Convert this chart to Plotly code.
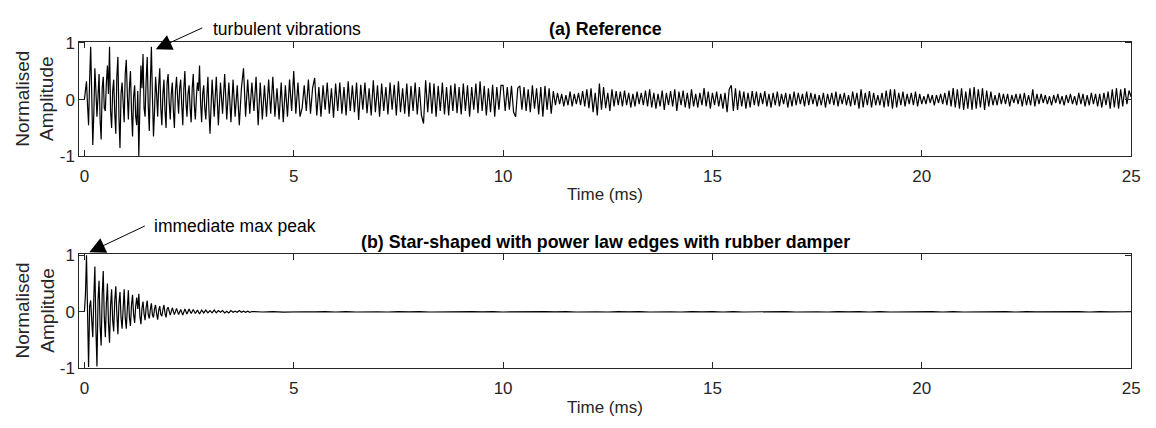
import numpy as np
import plotly.graph_objects as go

# Sampling intervals of the recorded signals (ms)
DT_FINE_MS = 0.025
DT_MS = 0.05
TAIL_DT_MS = 0.25

# (a) Reference plate, 0-3 ms at fine sampling (one row per millisecond)
reference_amp_early = [
    0.00, 0.20, 0.32, -0.10, -0.45, 0.35, 0.93, 0.10, -0.80, -0.25, 0.55, 0.15, -0.30, 0.05, 0.45, -0.35, -0.70, 0.20, 0.40, -0.15,
    -0.20, 0.30, 0.60, 0.10, 0.93, -0.20, -0.50, 0.15, 0.35, -0.25, -0.60, 0.40, 0.75, -0.30, -0.85, 0.10, 0.30, -0.05, -0.40, 0.45,
    0.70, 0.10, -0.35, 0.20, 0.50, -0.20, -0.65, 0.05, 0.25, -0.30, -0.45, 0.15, -1.00, -0.10, 0.60, 0.20, 0.80, -0.15, -0.30, 0.35,
    0.75, -0.10, -0.55, 0.30, 0.93, 0.05, -0.65, -0.20, 0.40, 0.10, -0.30, 0.25, 0.55, -0.15, -0.45, 0.10, 0.35, -0.20, -0.50, 0.30,
    0.45, -0.05, -0.35, 0.10, 0.30, -0.20, -0.50, 0.15, 0.40, 0.05, -0.25, 0.20, 0.35, -0.10, -0.45, 0.20, 0.50, -0.05, -0.30, 0.10,
    0.25, -0.15, -0.40, 0.20, 0.45, -0.10, -0.35, 0.05, 0.30, 0.15, 0.60, -0.05, -0.40, 0.10, 0.25, -0.15, -0.35, 0.05, 0.40, -0.20,
]

# (a) Reference plate, 3-25 ms (one row per millisecond)
reference_amp = [
    -0.60, 0.35, -0.30, 0.40, -0.45, 0.30, -0.25, 0.45, -0.35, 0.30, -0.40, 0.35, -0.30, 0.25, -0.45, 0.20, 0.55, -0.30, 0.35, -0.25,
    0.30, -0.20, 0.40, -0.45, 0.30, -0.35, 0.25, -0.30, 0.35, -0.25, 0.40, -0.30, 0.20, -0.35, 0.30, -0.40, 0.25, -0.30, 0.35, -0.20,
    0.50, -0.25, 0.30, -0.30, -0.15, 0.25, -0.20, 0.35, -0.25, 0.20, 0.38, -0.28, 0.22, -0.30, 0.25, -0.18, 0.30, -0.25, 0.20, -0.32,
    0.28, -0.20, 0.30, -0.25, 0.22, -0.28, 0.32, -0.20, 0.25, -0.22, 0.30, -0.36, 0.26, -0.18, 0.30, -0.24, 0.20, -0.28, 0.34, -0.22,
    0.25, -0.30, 0.28, -0.20, 0.22, -0.26, 0.30, -0.18, 0.26, -0.28, 0.32, -0.22, 0.20, -0.25, 0.28, -0.30, 0.24, -0.20, 0.30, -0.26,
    0.22, -0.28, -0.42, 0.34, -0.22, 0.30, -0.25, 0.28, -0.30, 0.24, -0.20, 0.30, -0.26, 0.22, -0.28, 0.25, -0.20, 0.28, -0.24, 0.22,
    -0.26, 0.28, -0.20, 0.25, -0.30, 0.22, -0.18, 0.28, -0.24, 0.32, -0.20, 0.24, -0.28, 0.20, -0.22, 0.26, -0.30, 0.22, -0.18, 0.25,
    0.25, -0.20, 0.22, -0.18, 0.24, -0.22, -0.30, 0.20, 0.24, -0.18, 0.22, -0.20, 0.18, -0.22, 0.25, -0.16, 0.20, -0.26, 0.22, -0.30,
    0.24, -0.18, 0.20, -0.25, 0.15, -0.10, 0.12, -0.08, 0.10, -0.12, 0.08, -0.10, 0.14, -0.12, 0.10, -0.08, 0.12, -0.10, 0.15, -0.12,
    0.18, -0.15, 0.20, -0.22, 0.12, -0.28, 0.28, -0.18, 0.22, -0.15, 0.12, -0.20, 0.18, -0.12, 0.15, -0.10, 0.14, -0.12, 0.16, -0.10,
    0.12, -0.14, 0.10, -0.12, 0.14, -0.08, 0.12, -0.10, 0.16, -0.12, 0.18, -0.14, 0.12, -0.16, 0.10, -0.12, 0.16, -0.18, 0.12, -0.10,
    0.15, -0.12, 0.18, -0.20, 0.14, -0.10, 0.16, -0.14, 0.12, -0.16, 0.18, -0.12, 0.10, -0.14, 0.12, -0.10, 0.20, -0.12, 0.14, -0.16,
    0.12, -0.10, 0.14, -0.12, 0.10, -0.16, 0.12, -0.22, 0.18, 0.25, -0.20, 0.20, -0.18, 0.16, -0.12, 0.14, -0.16, 0.12, -0.14, 0.15,
    -0.10, 0.14, -0.12, 0.12, -0.08, 0.15, -0.12, 0.10, -0.14, 0.12, -0.10, 0.14, -0.12, 0.10, -0.08, 0.12, -0.14, 0.10, -0.12, 0.14,
    -0.10, 0.12, -0.08, 0.10, -0.12, 0.14, -0.10, 0.12, -0.08, 0.10, -0.12, 0.08, -0.10, 0.12, -0.14, 0.10, -0.08, 0.12, -0.10, 0.14,
    -0.12, 0.10, -0.08, 0.12, -0.10, 0.08, -0.12, 0.14, -0.10, 0.12, -0.16, 0.18, -0.14, 0.12, -0.10, 0.15, -0.14, 0.12, -0.10, 0.08,
    -0.10, 0.12, -0.14, 0.16, -0.12, 0.18, -0.16, 0.18, -0.14, 0.12, -0.10, 0.14, -0.12, 0.10, -0.08, 0.12, -0.10, 0.14, -0.12, 0.10,
    -0.08, 0.06, -0.08, 0.10, -0.06, 0.08, -0.10, 0.08, -0.06, 0.10, -0.08, 0.12, -0.10, 0.16, -0.12, 0.20, -0.14, 0.18, -0.16, 0.20,
    -0.18, 0.14, -0.16, 0.20, -0.18, 0.22, -0.16, 0.18, -0.14, 0.20, -0.18, 0.16, -0.12, 0.14, -0.10, 0.08, -0.10, 0.12, -0.08, 0.10,
    -0.08, 0.10, -0.12, 0.08, -0.06, 0.10, -0.08, 0.10, -0.12, 0.12, -0.10, 0.08, -0.10, 0.18, -0.12, 0.10, -0.08, 0.10, -0.06, 0.08,
    -0.08, 0.06, -0.10, 0.08, -0.06, 0.10, -0.08, 0.06, -0.10, 0.08, -0.06, 0.10, -0.08, 0.06, -0.10, 0.12, -0.08, 0.10, -0.12, 0.08,
    -0.10, 0.12, -0.08, 0.10, -0.12, 0.10, -0.14, 0.12, -0.10, 0.14, -0.16, 0.18, -0.14, 0.20, -0.16, 0.18, -0.12, 0.20, -0.08, 0.16,
    0.05,
]

# (b) Star-shaped plate with power law edges and rubber damper, 0-2 ms fine sampling
damper_amp_early = [
    0.00, 0.30, 1.00, -0.20, -0.98, 0.10, 0.20, -0.15, -0.45, 0.25, 0.80, -0.30, -0.97, 0.20, 0.55, -0.25, -0.60, 0.30, 0.72, -0.10,
    -0.45, 0.15, 0.50, -0.20, -0.55, 0.10, 0.40, -0.15, -0.35, 0.20, 0.45, -0.05, -0.40, 0.15, 0.35, -0.10, -0.30, 0.05, 0.40, -0.10,
    -0.30, 0.05, 0.38, -0.10, -0.25, 0.12, 0.30, -0.05, -0.20, 0.10, 0.25, 0.05, 0.32, -0.08, -0.22, 0.06, 0.18, -0.04, -0.15, 0.08,
    0.20, -0.05, -0.12, 0.04, 0.15, -0.06, -0.10, 0.05, 0.12, -0.04, -0.14, 0.03, 0.10, -0.05, -0.08, 0.04, 0.12, -0.03, -0.10, 0.05,
]

# (b) 2-4 ms
damper_amp_mid = [
    0.08, -0.06, 0.07, -0.05, 0.06, -0.05, 0.04, -0.06, 0.05, -0.04, 0.05, -0.03, 0.04, -0.03, 0.03, -0.04, 0.03, -0.02, 0.03, -0.02,
    0.02, -0.02, 0.03, -0.02, 0.02, -0.01, 0.02, -0.02, 0.01, -0.02, 0.02, -0.01, 0.01, -0.01, 0.02, -0.01, 0.01, -0.01, 0.01, -0.01,
]

# (b) residual 4-25 ms, coarser sampling
damper_amp_tail = [
    0.004, -0.004, 0.003, -0.005, 0.004, 0.000, -0.003, 0.004, -0.004, 0.003,
    -0.004, 0.003, 0.000, -0.004, 0.004, -0.003, 0.004, -0.004, 0.000, 0.003,
    -0.004, 0.004, -0.003, 0.004, -0.004, 0.000, 0.003, -0.004, 0.004, -0.003,
    0.004, -0.004, 0.003, 0.000, -0.004, 0.004, -0.003, 0.004, -0.004, 0.003,
    0.000, -0.004, 0.004, -0.003, 0.004, -0.004, 0.003, -0.004, 0.000, 0.004,
    -0.003, 0.004, -0.004, 0.003, 0.000, -0.004, 0.004, -0.003, 0.004, -0.004,
    0.003, -0.004, 0.000, 0.004, -0.003, 0.004, -0.004, 0.003, -0.004, 0.000,
    0.004, -0.004, 0.003, -0.004, 0.004, -0.003, 0.000, 0.004, -0.004, 0.003,
    -0.004, 0.004, -0.003, 0.004, 0.000,
]

x_tick_vals = [0, 5, 10, 15, 20, 25]
x_tick_text = ["0", "5", "10", "15", "20", "25"]
y_tick_vals = [-1, 0, 1]
y_tick_text = ["-1", "0", "1"]

panel_titles = ["(a) Reference", "(b) Star-shaped with power law edges with rubber damper"]
callouts = ["turbulent vibrations", "immediate max peak"]


def time_base(start, dt, n):
    return start + np.arange(n) * dt


# time bases for each sampled segment
t_ref_early = time_base(0.0, DT_FINE_MS, len(reference_amp_early))
t_ref_main = time_base(3.0, DT_MS, len(reference_amp))
t_ref = np.concatenate([t_ref_early, t_ref_main])
ref_amp = list(reference_amp_early) + list(reference_amp)

t_damp = np.concatenate([
    time_base(0.0, DT_FINE_MS, len(damper_amp_early)),
    time_base(2.0, DT_MS, len(damper_amp_mid)),
    time_base(4.0, TAIL_DT_MS, len(damper_amp_tail)),
])
damp_amp = list(damper_amp_early) + list(damper_amp_mid) + list(damper_amp_tail)

W, H = 1156, 428
AXIS_COLOR = "#262626"
FONT = "Liberation Sans, Arial, sans-serif"


def px(xp):
    return xp / W


def py(yp):
    return 1 - yp / H


fig = go.Figure()
fig.add_trace(go.Scatter(x=t_ref, y=ref_amp, mode="lines",
                         line=dict(color="black", width=1.2), xaxis="x", yaxis="y",
                         showlegend=False, hoverinfo="skip"))
fig.add_trace(go.Scatter(x=t_damp, y=damp_amp, mode="lines",
                         line=dict(color="black", width=1.2), xaxis="x2", yaxis="y2",
                         showlegend=False, hoverinfo="skip"))

x_dom = [px(80), px(1140)]
common_x = dict(range=[-0.12, 25], tickvals=x_tick_vals, ticktext=x_tick_text,
                ticks="inside", ticklen=6, tickwidth=1, tickcolor=AXIS_COLOR,
                showline=True, linecolor=AXIS_COLOR, linewidth=1, mirror="ticks",
                showgrid=False, zeroline=False, domain=x_dom, fixedrange=True,
                ticklabelstandoff=4,
                tickfont=dict(family=FONT, size=17, color=AXIS_COLOR))
common_y = dict(range=[-1.0, 1.02], tickvals=y_tick_vals, ticktext=y_tick_text,
                ticks="inside", ticklen=6, tickwidth=1, tickcolor=AXIS_COLOR,
                showline=True, linecolor=AXIS_COLOR, linewidth=1, mirror="ticks",
                showgrid=False, zeroline=False, fixedrange=True,
                tickfont=dict(family=FONT, size=17, color=AXIS_COLOR))

fig.update_layout(
    width=W, height=H, margin=dict(l=0, r=0, t=0, b=0),
    paper_bgcolor="white", plot_bgcolor="white",
    xaxis=dict(common_x, anchor="y"),
    yaxis=dict(common_y, anchor="x", domain=[py(155), py(35)]),
    xaxis2=dict(common_x, anchor="y2"),
    yaxis2=dict(common_y, anchor="x2", domain=[py(376), py(257)]),
)

annotations = []
# panel titles
for title, yc in zip(panel_titles, [22, 244]):
    annotations.append(dict(text=f"<b>{title}</b>", x=px(610), y=py(yc), xref="paper", yref="paper",
                            xanchor="center", yanchor="middle", showarrow=False,
                            font=dict(family=FONT, size=17.8, color="black")))
# x axis titles
for yc in [195, 417]:
    annotations.append(dict(text="Time (ms)", x=px(610), y=py(yc), xref="paper", yref="paper",
                            xanchor="center", yanchor="middle", showarrow=False,
                            font=dict(family=FONT, size=17, color=AXIS_COLOR)))
# y axis titles
for yc in [95, 316]:
    annotations.append(dict(text="Normalised<br>Amplitude", x=px(35), y=py(yc), xref="paper", yref="paper",
                            xanchor="center", yanchor="middle", showarrow=False, textangle=-90,
                            font=dict(family=FONT, size=19, color=AXIS_COLOR)))
# callout texts
for text, xl, yc in zip(callouts, [213, 153], [22, 228]):
    annotations.append(dict(text=text, x=px(xl), y=py(yc), xref="paper", yref="paper",
                            xanchor="left", yanchor="middle", showarrow=False,
                            font=dict(family=FONT, size=17.5, color="black")))
# callout arrows (head position, tail offset in pixels)
for hx, hy, tx, ty in [(157, 43, 205, 21), (90, 255, 147, 228)]:
    annotations.append(dict(text="", x=px(hx), y=py(hy), xref="paper", yref="paper",
                            ax=tx - hx, ay=ty - hy, showarrow=True, arrowhead=2,
                            arrowsize=3.2, arrowwidth=1, arrowcolor="black", standoff=0))
fig.update_layout(annotations=annotations)

fig.write_html("out.html")
